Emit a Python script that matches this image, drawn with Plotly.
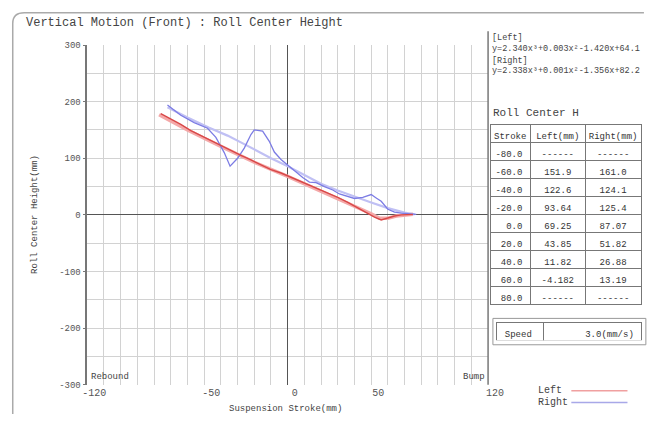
import plotly.graph_objects as go

W, H = 658, 424
FONT = "Liberation Mono"

# ---- data ----
left_raw_x = [-76, -70, -64, -58, -52, -46, -40, -34, -28, -22, -16, -10, -4, 0, 6, 12, 18, 24, 30, 36, 42, 48, 52, 56, 60, 64, 68, 72, 75]
left_raw_y = [179, 170, 160, 149, 140, 131, 123, 113, 105, 97, 88, 80, 74, 69, 62, 54, 47, 39, 31, 22, 12, 3, -4, -9, -5, -2, 0, 1, 1]
left_fit_x = [-77, -60, -40, -20, 0, 20, 40, 50, 55, 60, 65, 70, 75]
left_fit_y = [177, 150, 121, 93, 68, 42, 16, 2, -6, -6, -2, 0, 1]
right_raw_x = [-72, -64, -56, -48, -43, -38, -34.5, -30, -26, -22, -20, -15, -11, -8, -4, 0, 5, 9, 13, 17, 22, 27, 31, 36, 40, 45, 50, 53, 56, 60, 64, 68, 72, 77]
right_raw_y = [194, 176, 163, 153, 137, 110, 86, 100, 118, 142, 150, 148, 130, 111, 98, 88, 75, 66, 58, 57, 50, 44, 37, 32, 29, 31, 36, 30, 24, 10, 5, 3, 2, 1]
right_fit_x = [-72, -60, -47, -36, -26, -10, 0, 10, 20, 30, 40, 50, 60, 70, 76]
right_fit_y = [190, 172, 154, 140, 125, 100, 86, 70, 55, 43, 32, 22, 12, 4, 1]

x_ticks = [-120, -50, 0, 50, 120]
y_ticks = [300, 200, 100, 0, -100, -200, -300]

strokes = ["-80.0", "-60.0", "-40.0", "-20.0", "0.0", "20.0", "40.0", "60.0", "80.0"]
left_vals = ["------", "151.9", "122.6", "93.64", "69.25", "43.85", "11.82", "-4.182", "------"]
right_vals = ["------", "161.0", "124.1", "125.4", "87.07", "51.82", "26.88", "13.19", "------"]
headers = ["Stroke", "Left(mm)", "Right(mm)"]
speed = ["Speed", "3.0(mm/s)"]
eq_left = "y=2.340x\u00b3+0.003x\u00b2-1.420x+64.1"
eq_right = "y=2.338x\u00b3+0.001x\u00b2-1.356x+82.2"


def X(px):
    return px / W


def Y(py):
    return 1 - py / H


fig = go.Figure()
fig.add_trace(go.Scatter(x=left_fit_x, y=left_fit_y, mode="lines",
                         line=dict(color="#f4a8a8", width=3.5), hoverinfo="skip", showlegend=False))
fig.add_trace(go.Scatter(x=right_fit_x, y=right_fit_y, mode="lines",
                         line=dict(color="#c0c0f4", width=2.2), hoverinfo="skip", showlegend=False))
fig.add_trace(go.Scatter(x=right_raw_x, y=right_raw_y, mode="lines",
                         line=dict(color="#7c7ce4", width=1.3), showlegend=False))
fig.add_trace(go.Scatter(x=left_raw_x, y=left_raw_y, mode="lines",
                         line=dict(color="#d84848", width=1.4), showlegend=False))

# results table
fig.add_trace(go.Table(
    domain=dict(x=[X(501), 1.0], y=[Y(318), Y(123)]),
    columnwidth=[42, 57, 58],
    header=dict(values=headers, height=18, align="center",
                line=dict(color="#777", width=1), fill=dict(color="white"),
                font=dict(family=FONT, size=9, color="#333")),
    cells=dict(values=[strokes, left_vals, right_vals], height=18,
               align=["right", "center", "center"],
               line=dict(color="#777", width=1), fill=dict(color="white"),
               font=dict(family=FONT, size=9, color="#333")),
))
# speed box
fig.add_trace(go.Table(
    domain=dict(x=[X(508), 1.0], y=[Y(345), Y(326)]),
    columnwidth=[48, 102],
    header=dict(values=speed, height=18, align=["left", "right"],
                line=dict(color="#777", width=1), fill=dict(color="white"),
                font=dict(family=FONT, size=9, color="#333")),
    cells=dict(values=[[], []]),
))

x0, x1 = 85, 499
y0, y1 = 42, 390

fig.update_layout(
    width=W, height=H,
    margin=dict(l=0, r=0, t=0, b=0),
    paper_bgcolor="white", plot_bgcolor="white",
    font=dict(family=FONT, size=9, color="#444"),
    showlegend=False,
    xaxis=dict(domain=[X(x0), X(x1)], range=[-120, 120], tickmode="array",
               tickvals=x_ticks, ticktext=[str(v) for v in x_ticks], ticklabelshift=7,
               showgrid=True, gridcolor="#d2d2d2", gridwidth=1,
               minor=dict(dtick=10, tick0=0, showgrid=True, gridcolor="#d2d2d2", gridwidth=1),
               zeroline=True, zerolinecolor="#555", zerolinewidth=1,
               showline=False, ticks="", tickfont=dict(size=10, color="#555")),
    yaxis=dict(domain=[Y(y1), Y(y0)], range=[-300, 300], tickmode="array",
               tickvals=y_ticks, ticktext=[str(v) for v in y_ticks],
               showgrid=True, gridcolor="#d2d2d2",
               minor=dict(dtick=50, tick0=0, showgrid=True, gridcolor="#d2d2d2"),
               zeroline=True, zerolinecolor="#555", zerolinewidth=1,
               showline=True, linecolor="#777", linewidth=1.5,
               ticks="outside", ticklen=3, tickcolor="#777",
               tickfont=dict(size=9, color="#555")),
)

anns = [
    dict(text="Vertical Motion (Front) : Roll Center Height", x=X(20), y=Y(19), xanchor="left",
         yanchor="middle", font=dict(size=12, color="#444")),
    dict(text="Suspension Stroke(mm)", x=X(290), y=Y(415), xanchor="center", yanchor="middle",
         font=dict(size=9, color="#444")),
    dict(text="Roll Center Height(mm)", x=X(31), y=Y(216), xanchor="center", yanchor="middle",
         textangle=-90, font=dict(size=9, color="#444")),
    dict(text="Rebound", x=X(87), y=Y(389), xanchor="left", yanchor="bottom",
         font=dict(size=9, color="#444")),
    dict(text="Bump", x=X(498), y=Y(389), xanchor="right", yanchor="bottom",
         font=dict(size=9, color="#444")),
    dict(text="[Left]", x=X(501), y=Y(35), xanchor="left", yanchor="middle", font=dict(size=8.5)),
    dict(text=eq_left, x=X(501), y=Y(46), xanchor="left", yanchor="middle", font=dict(size=8.5)),
    dict(text="[Right]", x=X(501), y=Y(58), xanchor="left", yanchor="middle", font=dict(size=8.5)),
    dict(text=eq_right, x=X(501), y=Y(69), xanchor="left", yanchor="middle", font=dict(size=8.5)),
    dict(text="Roll Center H", x=X(502), y=Y(112), xanchor="left", yanchor="middle",
         font=dict(size=11, color="#444")),
    dict(text="Left", x=X(548), y=Y(396), xanchor="left", yanchor="middle", font=dict(size=10)),
    dict(text="Right", x=X(548), y=Y(408), xanchor="left", yanchor="middle", font=dict(size=10)),
]
for a in anns:
    a.update(xref="paper", yref="paper", showarrow=False)
    fig.add_annotation(**a)

shapes = [
    # window frame
    dict(type="path", path=f"M {X(8)} {Y(420)} L {X(8)} {Y(20)} Q {X(8)} {Y(9)} {X(20)} {Y(9)} L {X(660)} {Y(9)}",
         line=dict(color="#aaa", width=1.5)),
    # plot right border
    dict(type="line", x0=X(x1), x1=X(x1), y0=Y(y1), y1=Y(28), line=dict(color="#777", width=1.5)),
    # legend swatches
    dict(type="line", x0=X(585), x1=X(643), y0=Y(396), y1=Y(396), line=dict(color="#f0a0a0", width=1.5)),
    dict(type="line", x0=X(585), x1=X(643), y0=Y(408), y1=Y(408), line=dict(color="#a8a8e8", width=1.5)),
    # speed outer box
    dict(type="rect", x0=X(504), x1=X(662), y0=Y(322), y1=Y(349), line=dict(color="#999", width=1)),
]
for s in shapes:
    s.update(xref="paper", yref="paper")
    fig.add_shape(**s)

fig.write_html("out.html")
